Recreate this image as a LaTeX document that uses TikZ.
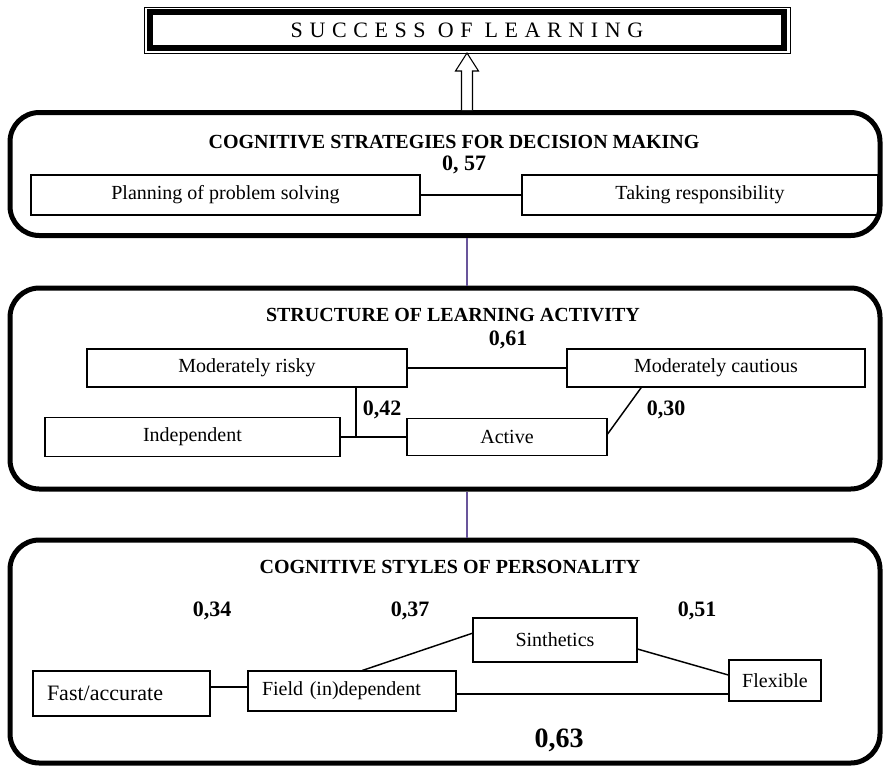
\documentclass[tikz,border=0pt]{standalone}
\usepackage{fontspec}
\setmainfont{Liberation Serif}
\newfontfamily\spacedfont[LetterSpace=30]{Liberation Serif}
\usetikzlibrary{calc}
\definecolor{linkpurple}{RGB}{105,85,155}
\newcommand{\px}{0.75pt}

\begin{document}
\begin{tikzpicture}[x=0.75pt,y=-0.75pt,
    panel/.style={draw, line width=3.75pt, rounded corners=22pt, inner sep=0pt},
    item/.style={draw, line width=0.9pt, inner sep=0pt, font=\fontsize{15}{18}\selectfont},
    head/.style={font=\bfseries\fontsize{15}{18}\selectfont},
    val/.style={font=\bfseries\fontsize{16.5}{19}\selectfont},
    link/.style={line width=1.1pt},
    plink/.style={linkpurple, line width=1.1pt}]

    \useasboundingbox (0,0) rectangle (885,765);

    % Title box with its thin outer frame
    \node[draw, line width=4.5pt, minimum width=634*\px, minimum height=36*\px, inner sep=0pt,
          font=\spacedfont\fontsize{16.5}{20}\selectfont] (title) at (467,30) {SUCCESS OF LEARNING};
    \draw[line width=0.75pt] ($(title.north west)+(-3,-2)$) rectangle ($(title.south east)+(3,2)$);

    % The three panels
    \node[panel, minimum width=870*\px, minimum height=123*\px] (strat) at (445,174) {};
    \node[panel, minimum width=870*\px, minimum height=201*\px] (activ) at (445,388.5) {};
    \node[panel, minimum width=870*\px, minimum height=223*\px] (styles) at (445,651.5) {};

    % Hollow arrow up to the title
    \coordinate (tip) at ($(title.south)+(0,2)$);
    \coordinate (base) at (tip |- strat.north);
    \draw[line width=0.8pt, fill=white] ($(base)+(-5.5,0)$) -- ($(tip)+(-5.5,18)$) -- ($(tip)+(-11.5,18)$)
        -- (tip) -- ($(tip)+(11.5,18)$) -- ($(tip)+(5.5,18)$) -- ($(base)+(5.5,0)$);

    % Links between panels
    \draw[plink] (tip |- strat.south) -- (tip |- activ.north);
    \draw[plink] (tip |- activ.south) -- (tip |- styles.north);

    % Panel headings
    \node[head] (h1) at (454,142) {COGNITIVE STRATEGIES FOR DECISION MAKING};
    \node[head] (h2) at (453,315) {STRUCTURE OF LEARNING ACTIVITY};
    \node[head] (h3) at (450,567) {COGNITIVE STYLES OF PERSONALITY};

    % Coefficients
    \foreach \x/\y/\lab/\nm in {464/165/{0, 57}/v1, 508/340/{0,61}/v2, 382/410/{0,42}/v3,
                               666/410/{0,30}/v4, 212/611/{0,34}/v5, 410/611/{0,37}/v6, 697/611/{0,51}/v7} {
        \node[val] (\nm) at (\x,\y) {\lab};
    }
    \node[font=\bfseries\fontsize{21}{25}\selectfont] (v8) at (559,740) {0,63};

    % Decision making
    \node[item, minimum width=389*\px, minimum height=40*\px] (plan) at (225.5,195) {Planning of problem solving};
    \node[item, minimum width=356*\px, minimum height=40*\px] (resp) at (700,195) {Taking responsibility};
    \draw[link] (plan.east) -- (resp.west);

    % Learning activity
    \node[item, minimum width=320*\px, minimum height=38*\px] (risky) at (247,368) {Moderately risky};
    \node[item, minimum width=298*\px, minimum height=38*\px] (caut) at (716,368) {Moderately cautious};
    \node[item, minimum width=295*\px, minimum height=39*\px] (indep) at (192.5,437) {Independent};
    \node[item, minimum width=200*\px, minimum height=37*\px] (active) at (507,437) {Active};
    \coordinate (junc) at (356,437);
    \draw[link] (risky.east) -- (caut.west);
    \draw[link] (indep.east) -- (active.west);
    \draw[link] (junc) -- (junc |- risky.south);
    \draw[link] ($(active.east)+(0,-3)$) -- ($(caut.south west)!0.25!(caut.south east)$);

    % Personality styles
    \node[item, minimum width=164*\px, minimum height=44*\px] (sinth) at (555,640) {Sinthetics};
    \node[item, minimum width=177*\px, minimum height=45*\px, text width=149*\px, align=left,
          font=\fontsize{16.5}{19}\selectfont] (fast) at (121.5,693.5) {Fast/accurate};
    \node[item, minimum width=208*\px, minimum height=40*\px, text width=180*\px, align=left] (field) at (352,691) {Field (in)dependent};
    \node[item, minimum width=92*\px, minimum height=41*\px] (flex) at (775,680.5) {Flexible};
    \coordinate (fa) at ($(fast.east)+(0,-6.5)$);
    \coordinate (fb) at ($(field.east)+(0,3)$);
    \draw[link] (fa) -- (fa -| field.west);
    \draw[link] (fb) -- (fb -| flex.west);
    \draw[link] ($(field.north west)!0.55!(field.north east)$) -- ($(sinth.north west)!0.35!(sinth.south west)$);
    \draw[link] ($(sinth.north east)!0.7!(sinth.south east)$) -- ($(flex.north west)!0.37!(flex.south west)$);

\end{tikzpicture}
\end{document}
